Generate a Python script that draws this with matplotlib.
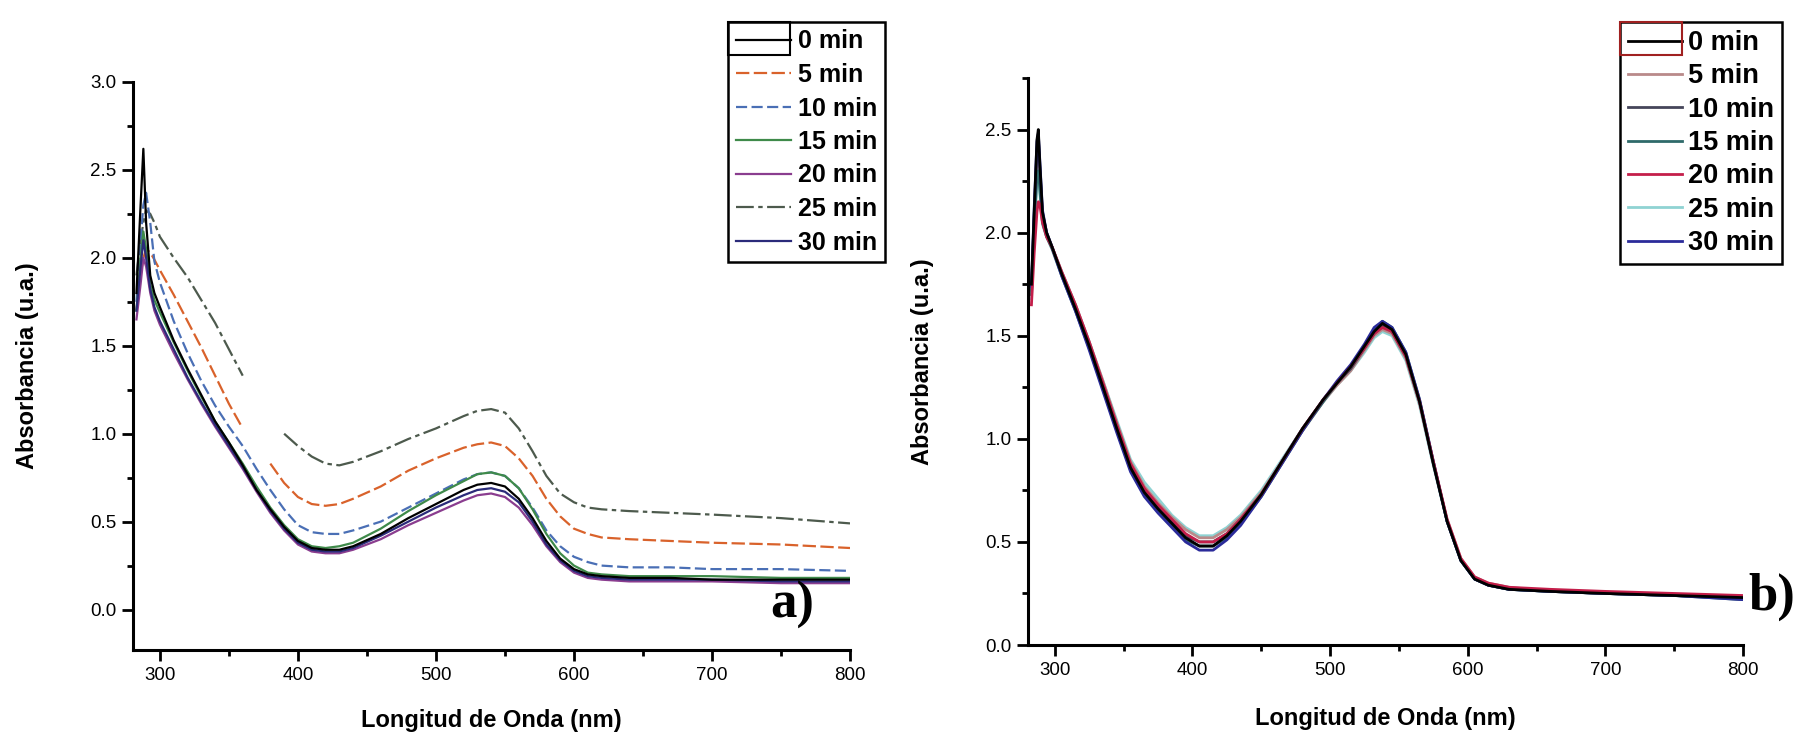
import numpy as np
import matplotlib.pyplot as plt
from matplotlib.ticker import MultipleLocator, FormatStrFormatter
from matplotlib.patches import Rectangle

plt.rcParams['font.family'] = ['Liberation Sans', 'DejaVu Sans']

labels = ['0 min', '5 min', '10 min', '15 min', '20 min', '25 min', '30 min']

# panel a) wavelengths (nm) and absorbance per time
wl_a = [283, 286, 288, 290, 293, 296, 300, 310, 320, 330,
        340, 350, 360, 370, 380, 390, 400, 410, 420, 430,
        440, 460, 480, 500, 520, 530, 540, 550, 560, 570,
        580, 590, 600, 610, 620, 640, 670, 700, 750, 800]
nan = np.nan
a_0 = [1.80, 2.30, 2.62, 2.20, 1.90, 1.80, 1.72, 1.53, 1.37, 1.22,
       1.07, 0.95, 0.82, 0.68, 0.57, 0.47, 0.39, 0.35, 0.34, 0.34,
       0.36, 0.43, 0.52, 0.60, 0.68, 0.71, 0.72, 0.70, 0.63, 0.52,
       0.39, 0.29, 0.23, 0.20, 0.19, 0.18, 0.18, 0.17, 0.17, 0.17]
a_5 = [1.70, 1.90, 2.00, 2.05, 2.03, 1.99, 1.93, 1.79, 1.64, 1.49,
       1.33, 1.17, 1.03, nan, 0.83, 0.72, 0.64, 0.60, 0.59, 0.60,
       0.63, 0.70, 0.79, 0.86, 0.92, 0.94, 0.95, 0.93, 0.86, 0.76,
       0.63, 0.53, 0.46, 0.43, 0.41, 0.40, 0.39, 0.38, 0.37, 0.35]
a_10 = [1.75, 2.10, 2.30, 2.37, 2.20, 1.98, 1.86, 1.64, 1.46, 1.30,
        1.16, 1.04, 0.93, 0.80, 0.68, 0.57, 0.48, 0.44, 0.43, 0.43,
        0.45, 0.50, 0.58, 0.66, 0.74, 0.77, 0.78, 0.76, 0.69, 0.58,
        0.45, 0.36, 0.30, 0.27, 0.25, 0.24, 0.24, 0.23, 0.23, 0.22]
a_15 = [1.70, 2.00, 2.15, 2.05, 1.85, 1.76, 1.69, 1.52, 1.36, 1.21,
        1.07, 0.95, 0.83, 0.70, 0.58, 0.48, 0.40, 0.36, 0.35, 0.36,
        0.38, 0.46, 0.56, 0.65, 0.73, 0.77, 0.78, 0.76, 0.69, 0.57,
        0.43, 0.32, 0.25, 0.21, 0.20, 0.19, 0.19, 0.19, 0.18, 0.18]
a_20 = [1.65, 1.85, 2.00, 1.95, 1.80, 1.70, 1.62, 1.46, 1.31, 1.17,
        1.04, 0.92, 0.80, 0.67, 0.55, 0.45, 0.37, 0.33, 0.32, 0.32,
        0.34, 0.40, 0.48, 0.55, 0.62, 0.65, 0.66, 0.64, 0.58, 0.48,
        0.36, 0.27, 0.21, 0.18, 0.17, 0.16, 0.16, 0.16, 0.15, 0.15]
a_25 = [1.90, 2.10, 2.20, 2.27, 2.25, 2.20, 2.12, 2.00, 1.89, 1.76,
        1.63, 1.48, 1.33, nan, nan, 1.00, 0.93, 0.87, 0.83, 0.82,
        0.84, 0.90, 0.97, 1.03, 1.10, 1.13, 1.14, 1.12, 1.03, 0.90,
        0.76, 0.66, 0.61, 0.58, 0.57, 0.56, 0.55, 0.54, 0.52, 0.49]
a_30 = [1.70, 1.95, 2.10, 2.00, 1.82, 1.72, 1.64, 1.48, 1.32, 1.18,
        1.05, 0.93, 0.81, 0.68, 0.56, 0.46, 0.38, 0.34, 0.33, 0.33,
        0.35, 0.42, 0.50, 0.58, 0.65, 0.68, 0.69, 0.67, 0.61, 0.50,
        0.37, 0.28, 0.22, 0.19, 0.18, 0.17, 0.17, 0.17, 0.16, 0.16]

# panel b)
wl_b = [283, 285, 287, 288, 289, 291, 294, 298, 305, 315,
        325, 335, 345, 355, 365, 375, 385, 395, 405, 415,
        425, 435, 450, 465, 480, 495, 505, 515, 525, 532,
        538, 545, 555, 565, 575, 585, 595, 605, 615, 630,
        660, 700, 750, 800]
b_0 = [1.75, 2.10, 2.45, 2.50, 2.35, 2.10, 2.00, 1.93, 1.80, 1.63,
       1.45, 1.25, 1.05, 0.86, 0.74, 0.66, 0.59, 0.52, 0.48, 0.48,
       0.53, 0.60, 0.73, 0.89, 1.05, 1.19, 1.27, 1.35, 1.45, 1.52,
       1.56, 1.53, 1.41, 1.18, 0.88, 0.60, 0.41, 0.32, 0.29, 0.27,
       0.26, 0.25, 0.24, 0.23]
b_5 = [1.70, 2.05, 2.35, 2.40, 2.30, 2.08, 1.99, 1.93, 1.81, 1.65,
       1.47, 1.28, 1.08, 0.89, 0.77, 0.69, 0.62, 0.56, 0.52, 0.52,
       0.56, 0.62, 0.74, 0.89, 1.04, 1.18, 1.26, 1.33, 1.43, 1.50,
       1.53, 1.51, 1.39, 1.17, 0.88, 0.61, 0.42, 0.33, 0.30, 0.28,
       0.26, 0.25, 0.24, 0.23]
b_10 = [1.72, 2.08, 2.40, 2.46, 2.32, 2.09, 2.00, 1.93, 1.80, 1.64,
        1.46, 1.26, 1.06, 0.87, 0.75, 0.67, 0.60, 0.53, 0.50, 0.50,
        0.54, 0.61, 0.73, 0.89, 1.05, 1.19, 1.27, 1.34, 1.44, 1.51,
        1.55, 1.52, 1.40, 1.18, 0.88, 0.60, 0.41, 0.32, 0.29, 0.27,
        0.26, 0.25, 0.24, 0.23]
b_15 = [1.70, 2.02, 2.28, 2.30, 2.22, 2.05, 1.98, 1.92, 1.79, 1.62,
        1.44, 1.24, 1.04, 0.85, 0.73, 0.65, 0.58, 0.51, 0.48, 0.48,
        0.52, 0.59, 0.72, 0.88, 1.04, 1.18, 1.27, 1.35, 1.45, 1.53,
        1.57, 1.54, 1.42, 1.19, 0.89, 0.60, 0.41, 0.32, 0.29, 0.27,
        0.26, 0.25, 0.24, 0.22]
b_20 = [1.65, 1.90, 2.10, 2.15, 2.14, 2.05, 1.98, 1.93, 1.81, 1.65,
        1.47, 1.27, 1.07, 0.88, 0.76, 0.68, 0.61, 0.54, 0.50, 0.50,
        0.54, 0.61, 0.73, 0.89, 1.05, 1.19, 1.27, 1.35, 1.44, 1.51,
        1.54, 1.52, 1.40, 1.18, 0.89, 0.61, 0.42, 0.33, 0.30, 0.28,
        0.27, 0.26, 0.25, 0.24]
b_25 = [1.68, 2.00, 2.25, 2.28, 2.20, 2.04, 1.98, 1.93, 1.81, 1.65,
        1.47, 1.28, 1.09, 0.90, 0.79, 0.71, 0.63, 0.57, 0.53, 0.53,
        0.57, 0.63, 0.75, 0.90, 1.05, 1.18, 1.26, 1.33, 1.42, 1.49,
        1.52, 1.50, 1.38, 1.16, 0.87, 0.60, 0.41, 0.32, 0.29, 0.27,
        0.26, 0.25, 0.24, 0.23]
b_30 = [1.74, 2.12, 2.44, 2.48, 2.36, 2.11, 2.00, 1.93, 1.79, 1.62,
        1.43, 1.23, 1.03, 0.84, 0.72, 0.64, 0.57, 0.50, 0.46, 0.46,
        0.51, 0.58, 0.72, 0.88, 1.04, 1.19, 1.28, 1.36, 1.46, 1.54,
        1.57, 1.54, 1.42, 1.19, 0.89, 0.60, 0.41, 0.32, 0.29, 0.27,
        0.26, 0.25, 0.24, 0.22]

W, H = 1793, 739
fig = plt.figure(figsize=(W / 100, H / 100), dpi=100)
ax1 = fig.add_axes([133 / W, (H - 650) / H, 717 / W, 568 / H])
ax2 = fig.add_axes([1028 / W, (H - 645) / H, 715 / W, 567 / H])

# panel a
sa = [a_0, a_5, a_10, a_15, a_20, a_25, a_30]
col_a = ['black', '#d9622b', '#4a6fb5', '#3f8a4a', '#8a3d8f', '#4d5a4d', '#2b2b7a']
ls_a = ['-', (0, (6, 2)), (0, (5, 2)), '-', '-', (0, (8, 2, 2, 2)), '-']
lines_a = {}
for i in [5, 1, 2, 3, 4, 6, 0]:
    ln, = ax1.plot(wl_a, sa[i], color=col_a[i], ls=ls_a[i], lw=1.6)
    lines_a[i] = ln

# panel b
sb = [b_0, b_5, b_10, b_15, b_20, b_25, b_30]
col_b = ['black', '#b98a8a', '#45455a', '#2f6a6a', '#c41e4a', '#8fd3d3', '#2b2b9a']
lines_b = {}
for i in [5, 1, 2, 3, 6, 4, 0]:
    ln, = ax2.plot(wl_b, sb[i], color=col_b[i], lw=2.0)
    lines_b[i] = ln

for ax in (ax1, ax2):
    ax.set_xlim(280.5, 800)
    ax.spines['top'].set_visible(False)
    ax.spines['right'].set_visible(False)
    for s in ('left', 'bottom'):
        ax.spines[s].set_linewidth(2.2)
    ax.xaxis.set_major_locator(MultipleLocator(100))
    ax.xaxis.set_minor_locator(MultipleLocator(50))
    ax.yaxis.set_major_locator(MultipleLocator(0.5))
    ax.yaxis.set_minor_locator(MultipleLocator(0.25))
    ax.yaxis.set_major_formatter(FormatStrFormatter('%.1f'))
    ax.tick_params(which='major', direction='out', length=8, width=2, labelsize=13.5, pad=4)
    ax.tick_params(which='minor', direction='out', length=4, width=2)
    ax.set_xlabel('Longitud de Onda (nm)', fontsize=17, fontweight='bold', va='center')
    ax.set_ylabel('Absorbancia (u.a.)', fontsize=17, fontweight='bold', va='center')
    ax.yaxis.set_label_coords(-0.147, 0.5)
ax1.xaxis.set_label_coords(0.5, -0.125)
ax2.xaxis.set_label_coords(0.5, -0.13)

ax1.set_ylim(-0.23, 3.0)
ax2.set_ylim(0, 2.75)

leg_kw = dict(loc='upper left', bbox_transform=fig.transFigure, frameon=True,
              fancybox=False, edgecolor='black', framealpha=1, borderpad=0.3,
              borderaxespad=0)
leg1 = ax1.legend([lines_a[i] for i in range(7)], labels, bbox_to_anchor=(728 / W, 1 - 22 / H),
                  handlelength=2.2, handletextpad=0.3, labelspacing=0.38,
                  prop={'weight': 'bold', 'size': 18}, **leg_kw)
leg2 = ax2.legend([lines_b[i] for i in range(7)], labels, bbox_to_anchor=(1620 / W, 1 - 22 / H),
                  handlelength=2.0, handletextpad=0.2, labelspacing=0.27,
                  prop={'weight': 'bold', 'size': 19.5}, **leg_kw)
for lg in (leg1, leg2):
    lg.get_frame().set_linewidth(1.8)

fig.patches.append(Rectangle((728 / W, 1 - 55 / H), 62 / W, 33 / H, transform=fig.transFigure,
                             fill=False, edgecolor='black', lw=1.5))
fig.patches.append(Rectangle((1620 / W, 1 - 55 / H), 62 / W, 33 / H, transform=fig.transFigure,
                             fill=False, edgecolor='#a02020', lw=1.5))

ax1.text(0.92, 0.079, 'a)', transform=ax1.transAxes, fontsize=38, fontweight='bold',
         family='Liberation Serif', ha='center', va='center')
ax2.text(1.007, 0.085, 'b)', transform=ax2.transAxes, fontsize=38, fontweight='bold',
         family='Liberation Serif', ha='left', va='center', clip_on=False)

fig.savefig('out.png', dpi=100)
